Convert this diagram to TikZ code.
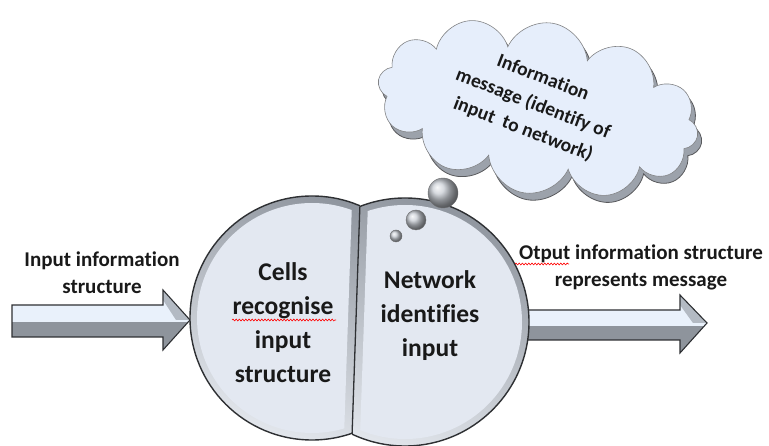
\documentclass[tikz,border=0pt]{standalone}
\usepackage{fontspec}
\setmainfont{Carlito}[Ligatures=NoCommon]
\usetikzlibrary{shapes.symbols,decorations.pathmorphing}

\definecolor{facelight}{HTML}{E3E8F1}
\definecolor{ringdark}{HTML}{8F959E}
\definecolor{ringlight}{HTML}{E2E6EC}
\definecolor{edgecol}{HTML}{2E3033}
\definecolor{cloudface}{HTML}{E6EEFB}
\definecolor{cloudshade}{HTML}{9CA2AB}
\definecolor{arrowlight}{HTML}{E9F1FB}
\definecolor{arrowdark}{HTML}{8E949C}

\tikzset{
  smalllabel/.style={font=\bfseries\fontsize{21}{27}\selectfont, align=center, text=black!90, inner sep=0pt},
  celltext/.style={font=\bfseries\fontsize{25.5}{34}\selectfont, align=center, text=black!90, inner sep=0pt},
  cloudtext/.style={font=\bfseries\fontsize{19.5}{27.5}\selectfont, align=center, text=black!90, inner sep=0pt},
  ring/.style={top color=ringdark, bottom color=ringlight, shading angle=-20},
  outline/.style={draw=edgecol, line width=1.4pt},
  squiggle/.style={red, line width=0.6pt, decorate, decoration={snake, amplitude=0.9pt, segment length=3.2pt}},
  bubble/.style={ball color=ringlight!70!ringdark, draw=edgecol!70, line width=0.4pt},
  puffs/.style={cloud, cloud puffs=12, aspect=1.9, minimum width=324pt, minimum height=172pt, rotate=-10},
}

\begin{document}
\begin{tikzpicture}[x=1pt,y=-1pt]
\useasboundingbox (0,0) rectangle (769,446);

% ---------- block arrows ----------
\newcommand{\inarrowpath}{(12,305) -- (163,305) -- (163,290) -- (190,320) -- (163,350) -- (163,337) -- (12,337) -- cycle}
\newcommand{\outarrowpath}{(520,310) -- (680,310) -- (680,295) -- (707,323) -- (680,353) -- (680,340) -- (520,340) -- cycle}

\fill[arrowlight] \inarrowpath;
\begin{scope}
  \clip \inarrowpath;
  \fill[arrowdark] (0,322) rectangle (200,360);
  \fill[ringdark!60!arrowlight] (163,280) -- (190,320) -- (176,320) -- (163,300) -- cycle;
\end{scope}
\draw[edgecol, line width=1.1pt, line join=miter] \inarrowpath;
\coordinate (intip) at (190,320);

\fill[arrowlight] \outarrowpath;
\begin{scope}
  \clip \outarrowpath;
  \fill[arrowdark] (500,326) rectangle (720,360);
  \fill[ringdark!60!arrowlight] (680,285) -- (707,323) -- (693,323) -- (680,305) -- cycle;
\end{scope}
\draw[edgecol, line width=1.1pt, line join=miter] \outarrowpath;
\coordinate (outtip) at (707,323);

% ---------- the cell: two halves split by a chord ----------
\newcommand{\leftpart}{(170,150) -- (361.8,150) -- (351.2,460) -- (170,460) -- cycle}
\newcommand{\rightpart}{(361.8,150) -- (560,150) -- (560,460) -- (351.2,460) -- cycle}

% left half
\begin{scope}
  \clip \leftpart;
  \fill[ring] (312,318) circle[radius=122pt];
  \draw[outline] (312,318) circle[radius=122pt];
  \clip (170,150) -- (353.8,150) -- (343.2,460) -- (170,460) -- cycle;
  \fill[facelight] (312,318) circle[radius=115pt];
\end{scope}

% right half
\begin{scope}
  \clip \rightpart;
  \fill[ring] (405,322) circle[radius=124pt];
  \draw[outline] (405,322) circle[radius=124pt];
  \clip (369.8,150) -- (560,150) -- (560,460) -- (359.2,460) -- cycle;
  \fill[facelight] (405,322) circle[radius=117pt];
\end{scope}

% chord between the halves
\begin{scope}
  \clip (405,322) circle[radius=124pt];
  \draw[edgecol, line width=1.3pt] (361.8,150) -- (351.2,460);
\end{scope}

% bubbles rising from the cell
\shade[bubble] (443,193) circle[radius=15pt];
\shade[bubble] (416,220) circle[radius=10pt];
\shade[bubble] (396,236) circle[radius=6pt];

% ---------- thought cloud ----------
\node[puffs, fill=cloudshade, draw=edgecol!80, line width=0.8pt] (cloudback) at (542,115) {};
\node[puffs, fill=cloudface, draw=edgecol!60, line width=0.6pt] (cloud) at (538,108) {};
\node[cloudtext, rotate=-21] (cloudlbl) at (533,104) {Information\\message (identify of\\input\ \ to network)};

% ---------- texts ----------
\node[smalllabel] (inlbl) at (102,273) {Input information\\structure};
\node[smalllabel] (outlbl) at (641,267) {Otput information structure\\represents message};
\node[celltext] (cellsl) at (283,323) {Cells\\recognise\\input\\structure};
\node[celltext] (netl) at (430,316) {Network\\identifies\\input};

% spell-check underlines
\draw[squiggle] (232,320) -- (336,320);
\draw[squiggle] (515,264) -- (569,264);
\end{tikzpicture}
\end{document}
